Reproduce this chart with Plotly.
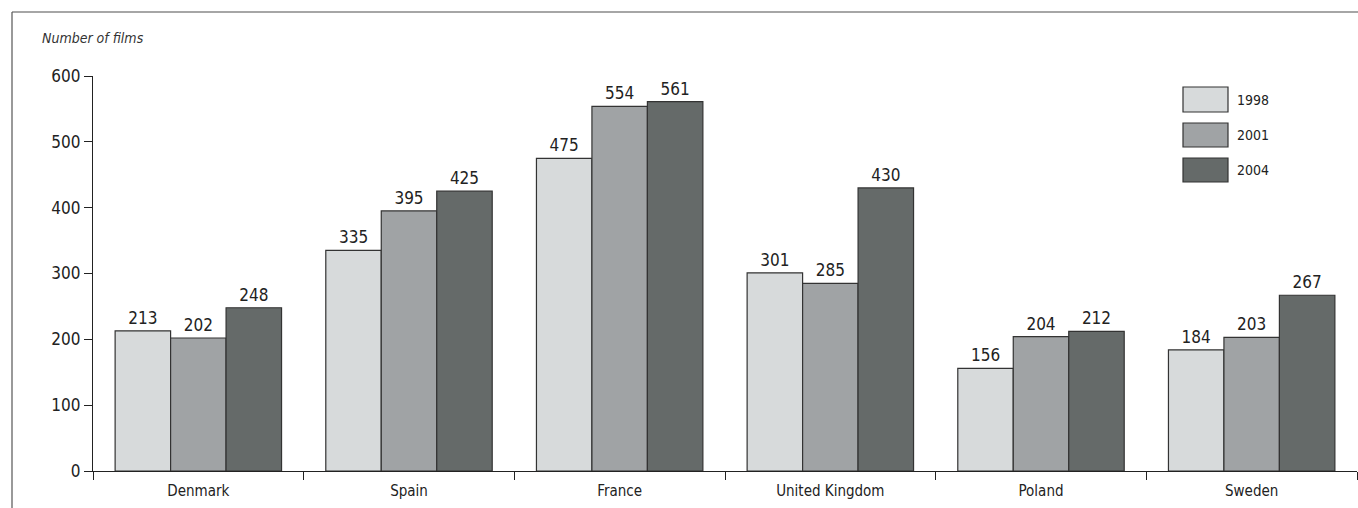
import plotly.graph_objects as go

countries = ["Denmark", "Spain", "France", "United Kingdom", "Poland", "Sweden"]
years = ["1998", "2001", "2004"]
v1998 = [213, 335, 475, 301, 156, 184]
v2001 = [202, 395, 554, 285, 204, 203]
v2004 = [248, 425, 561, 430, 212, 267]
y_ticks = [0, 100, 200, 300, 400, 500, 600]

colors = ["#d7dadb", "#a0a3a5", "#656a69"]
FONT = "DejaVu Sans Condensed, Liberation Sans Narrow, sans-serif"

fig = go.Figure()
for name, vals, c in zip(years, [v1998, v2001, v2004], colors):
    fig.add_trace(go.Bar(
        x=countries, y=vals, name=name,
        marker=dict(color=c, line=dict(color="#333333", width=1.2)),
        text=[str(v) for v in vals], textposition="outside",
        textfont=dict(family=FONT, size=17, color="#222"),
        cliponaxis=False, showlegend=False, hoverinfo="skip",
    ))

W, H = 1264, 395
def px(x):
    return (x - 93) / W
def py(y):
    return (471 - y) / H

shapes = [
    dict(type="line", xref="paper", yref="paper", x0=px(12), x1=px(1358), y0=py(12), y1=py(12),
         line=dict(color="#888888", width=1.5)),
    dict(type="line", xref="paper", yref="paper", x0=px(12), x1=px(12), y0=py(12), y1=py(508),
         line=dict(color="#555555", width=1.2)),
]
annotations = [
    dict(text="<i>Number of films</i>", xref="paper", yref="paper", x=px(40), y=py(38),
         xanchor="left", yanchor="middle", showarrow=False,
         font=dict(family=FONT, size=14, color="#333")),
]
boxes = [(87, 112), (123, 147), (158, 182)]
for (top, bot), name, c in zip(boxes, years, colors):
    shapes.append(dict(type="rect", xref="paper", yref="paper", x0=px(1183), x1=px(1228),
                       y0=py(bot), y1=py(top), fillcolor=c, line=dict(color="#333333", width=1.2)))
    annotations.append(dict(text=name, xref="paper", yref="paper", x=px(1235), y=py((top + bot) / 2),
                            xanchor="left", yanchor="middle", showarrow=False,
                            font=dict(family=FONT, size=14, color="#222")))

fig.update_layout(
    width=1358, height=508,
    margin=dict(l=93, r=1, t=76, b=37),
    paper_bgcolor="white", plot_bgcolor="white",
    barmode="group", bargap=0.21, bargroupgap=0,
    shapes=shapes, annotations=annotations,
    font=dict(family=FONT, color="#222"),
    xaxis=dict(showline=True, linecolor="#222", linewidth=1.2, ticks="outside", tickson="boundaries",
               ticklen=8, tickcolor="#222", showgrid=False, ticklabelstandoff=6,
               tickfont=dict(family=FONT, size=15, color="#222")),
    yaxis=dict(range=[0, 600], tickvals=y_ticks, showline=True, linecolor="#222", linewidth=1.2,
               ticks="outside", ticklen=8, tickcolor="#222", showgrid=False, zeroline=False,
               tickfont=dict(family=FONT, size=17, color="#222")),
)

fig.write_html("out.html", config={"displayModeBar": False},
               post_script="document.body.style.margin='0';document.body.style.overflow='hidden';")
